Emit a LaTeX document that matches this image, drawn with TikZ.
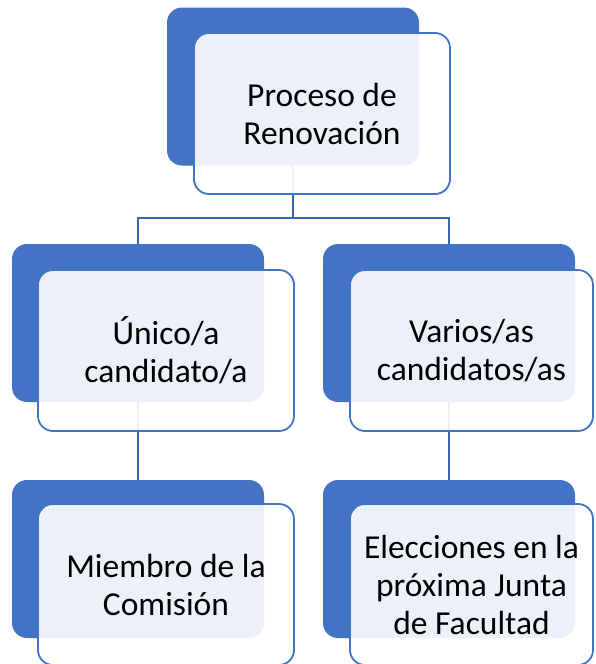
\documentclass[tikz,border=0pt]{standalone}
\usepackage{fontspec}
\setmainfont{Carlito}
\usetikzlibrary{positioning}
\usetikzlibrary{calc}
\definecolor{accblue}{HTML}{4472C4}
\definecolor{linkblue}{HTML}{3B64AD}
\tikzset{backbox/.style={rectangle, rounded corners=15pt, fill=accblue, inner sep=0pt, minimum width=252pt, minimum height=158pt}}
\tikzset{frontbox/.style={rectangle, rounded corners=15pt, draw=accblue, line width=1.8pt, fill=white, fill opacity=0.9, text opacity=1, inner sep=0pt, minimum width=256pt, minimum height=161pt, align=center, font=\fontsize{33.5}{38}\selectfont}}
\tikzset{conn/.style={draw=linkblue, line width=2pt}}

\begin{document}
\begin{tikzpicture}[x=1pt, y=-1pt]
\useasboundingbox (0,0) rectangle (595,664);

% connectors go behind the boxes
\coordinate (top) at (293, 86.5);
\coordinate (midL) at (138, 323);
\coordinate (midR) at (449, 323);
\coordinate (botL) at (138, 559);
\coordinate (botR) at (449, 559);
\coordinate (j) at (293, 218);
\draw[conn] (293,166) -- (j);
\draw[conn] (j) -| (138,244);
\draw[conn] (j) -| (449,244);
\draw[conn] (138,402) -- (138,480);
\draw[conn] (449,402) -- (449,480);

\node[backbox] (b0) at (top) {};
\node[backbox] (b1) at (midL) {};
\node[backbox] (b2) at (midR) {};
\node[backbox] (b3) at (botL) {};
\node[backbox] (b4) at (botR) {};

\node[frontbox] (f0) at (322, 113.5) {Proceso de\\Renovación};
\node[frontbox] (f1) at (166, 350.5) {Único/a\\candidato/a};
\node[frontbox, minimum width=243pt] (f2) at (471.5, 350.5) {Varios/as\\candidatos/as};
\node[frontbox] (f3) at (166, 584.5) {Miembro de la\\Comisión};
\node[frontbox, minimum width=243pt] (f4) at (471.5, 584.5) {Elecciones en la\\próxima Junta\\de Facultad};
\end{tikzpicture}
\end{document}
